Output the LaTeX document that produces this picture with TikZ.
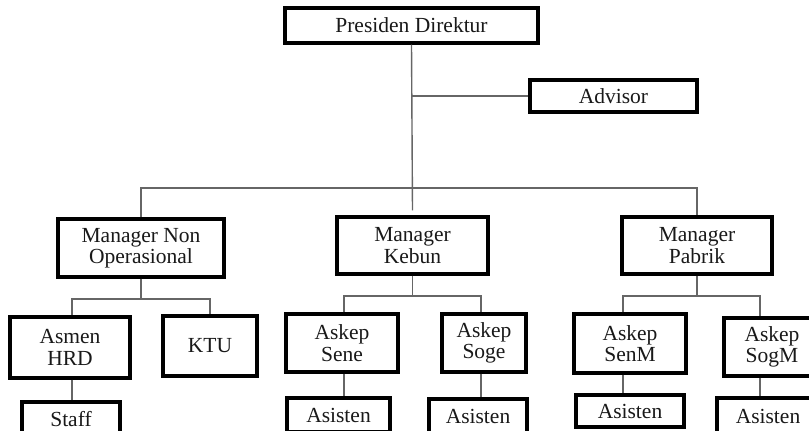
\documentclass[tikz,border=0pt]{standalone}
\usepackage{fontspec}
\setmainfont{Liberation Serif}

\begin{document}
\begin{tikzpicture}[x=1pt,y=-1pt,
    jabatan/.style={draw=black, line width=3.2pt, fill=white, align=center,
      inner sep=0pt, text=black!90, font=\fontsize{21.5}{21.5}\selectfont},
    garis/.style={draw=black!60, line width=1.4pt}]
  \useasboundingbox (0,0) rectangle (809,431);
  \clip (0,0) rectangle (809,431);
  % Presiden Direktur dan Advisor
  \node[jabatan, minimum width=253, minimum height=35] (pd) at (411.5,25.5) {Presiden Direktur};
  \node[jabatan, minimum width=167, minimum height=32] (adv) at (613.5,96) {Advisor};
  % Manager
  \node[jabatan, minimum width=166, minimum height=58] (mno) at (141,248) {Manager Non\\Operasional};
  \node[jabatan, minimum width=151, minimum height=57] (mkb) at (412.5,245.5) {Manager\\Kebun};
  \node[jabatan, minimum width=150, minimum height=57] (mpb) at (697,245.5) {Manager\\Pabrik};
  % Non Operasional: Asmen HRD, KTU, Staff
  \node[jabatan, minimum width=120, minimum height=61] (ahrd) at (70,347.5) {Asmen\\HRD};
  \node[jabatan, minimum width=94, minimum height=60] (ktu) at (210,346) {KTU};
  \node[jabatan, minimum width=98, minimum height=34] (staff) at (71,419) {Staff};
  % Kebun: Askep Sene, Askep Soge
  \node[jabatan, minimum width=112, minimum height=58] (asene) at (342,343) {Askep\\Sene};
  \node[jabatan, minimum width=84, minimum height=58] (asoge) at (484,343) {Askep\\Soge};
  \node[jabatan, minimum width=103, minimum height=34] (asisA) at (338.5,415) {Asisten};
  \node[jabatan, minimum width=98, minimum height=34] (asisB) at (478,416) {Asisten};
  % Pabrik: Askep SenM, Askep SogM
  \node[jabatan, minimum width=112, minimum height=59] (asenm) at (630,343.5) {Askep\\SenM};
  \node[jabatan, minimum width=96, minimum height=58] (asogm) at (772,347) {Askep\\SogM};
  \node[jabatan, minimum width=108, minimum height=32] (asisC) at (630,411) {Asisten};
  \node[jabatan, minimum width=102, minimum height=36] (asisD) at (768,416) {Asisten};
  % garis ke manager
  \coordinate (bus) at (411,188);
  \draw[garis] (pd.south) -- ([yshift=5pt]mkb.north);
  \draw[garis] (pd.south |- adv.west) -- (adv.west);
  \draw[garis] (mno.north) |- (bus) -| (mpb.north);
  % cabang Non Operasional
  \coordinate (cab1) at (144,299);
  \draw[garis] (mno.south) -- (mno.south |- cab1);
  \draw[garis] ([xshift=2pt]ahrd.north) |- (cab1) -| (ktu.north);
  \draw[garis] ([xshift=2pt]ahrd.south) -- ([xshift=2pt]ahrd.south |- staff.north);
  % cabang Kebun
  \coordinate (cab2) at (412,296);
  \draw[garis] (mkb.south) -- (mkb.south |- cab2);
  \draw[garis] ([xshift=2pt]asene.north) |- (cab2) -| ([xshift=-3pt]asoge.north);
  \draw[garis] ([xshift=2pt]asene.south) -- ([xshift=2pt]asene.south |- asisA.north);
  \draw[garis] ([xshift=-3pt]asoge.south) -- ([xshift=-3pt]asoge.south |- asisB.north);
  % cabang Pabrik
  \coordinate (cab3) at (696,296);
  \draw[garis] (mpb.south) -- (mpb.south |- cab3);
  \draw[garis] ([xshift=-7pt]asenm.north) |- (cab3) -| ([xshift=-12pt]asogm.north);
  \draw[garis] ([xshift=-7pt]asenm.south) -- ([xshift=-7pt]asenm.south |- asisC.north);
  \draw[garis] ([xshift=-12pt]asogm.south) -- ([xshift=-12pt]asogm.south |- asisD.north);
\end{tikzpicture}
\end{document}
